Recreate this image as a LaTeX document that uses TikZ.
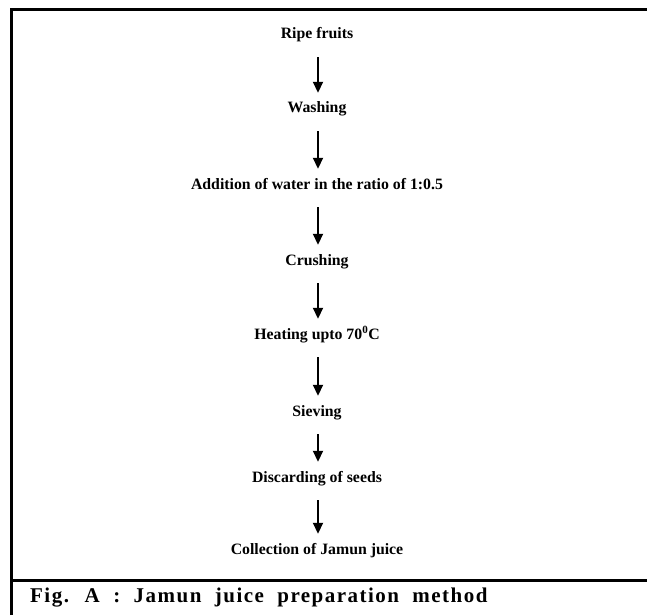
\documentclass[tikz,border=0pt]{standalone}
\usepackage{fontspec}
\setmainfont{Liberation Serif}
\newfontfamily\capfont[LetterSpace=7,WordSpace=2]{Liberation Serif}
\usetikzlibrary{arrows.meta}
\tikzset{
  stepnode/.style={inner sep=0pt, text height=11pt, text depth=3pt, font=\fontsize{15.8}{18}\selectfont\bfseries},
  flow/.style={line width=1.8pt, -{Triangle[width=10pt,length=11pt]}, shorten <=15pt, shorten >=9pt},
  frameline/.style={line width=3pt}
}
\begin{document}
\begin{tikzpicture}[x=1pt,y=1pt]
\useasboundingbox (0,0) rectangle (647,-615);
\draw[frameline] (11,-615) -- (11,-10) -- (647,-10);
\draw[frameline] (11,-580) -- (647,-580);
\node[stepnode] (n1) at (317,-35) {Ripe fruits};
\node[stepnode] (n2) at (317,-109) {Washing};
\node[stepnode] (n3) at (317,-185) {Addition of water in the ratio of 1:0.5};
\node[stepnode] (n4) at (317,-261) {Crushing};
\node[stepnode] (n5) at (317,-335) {Heating upto 70\textsuperscript{0}C};
\node[stepnode] (n6) at (317,-412) {Sieving};
\node[stepnode] (n7) at (317,-478) {Discarding of seeds};
\node[stepnode] (n8) at (317,-550) {Collection of Jamun juice};
\foreach \a/\b in {n1/n2,n2/n3,n3/n4,n4/n5,n5/n6,n6/n7,n7/n8}
  \draw[flow] ([xshift=1pt]\a.south) -- ([xshift=1pt]\b.north);
\node[anchor=west, inner sep=0pt, font=\fontsize{21}{23}\selectfont\capfont\bfseries] (cap) at (30,-598) {Fig. A : Jamun juice preparation method};
\end{tikzpicture}
\end{document}
